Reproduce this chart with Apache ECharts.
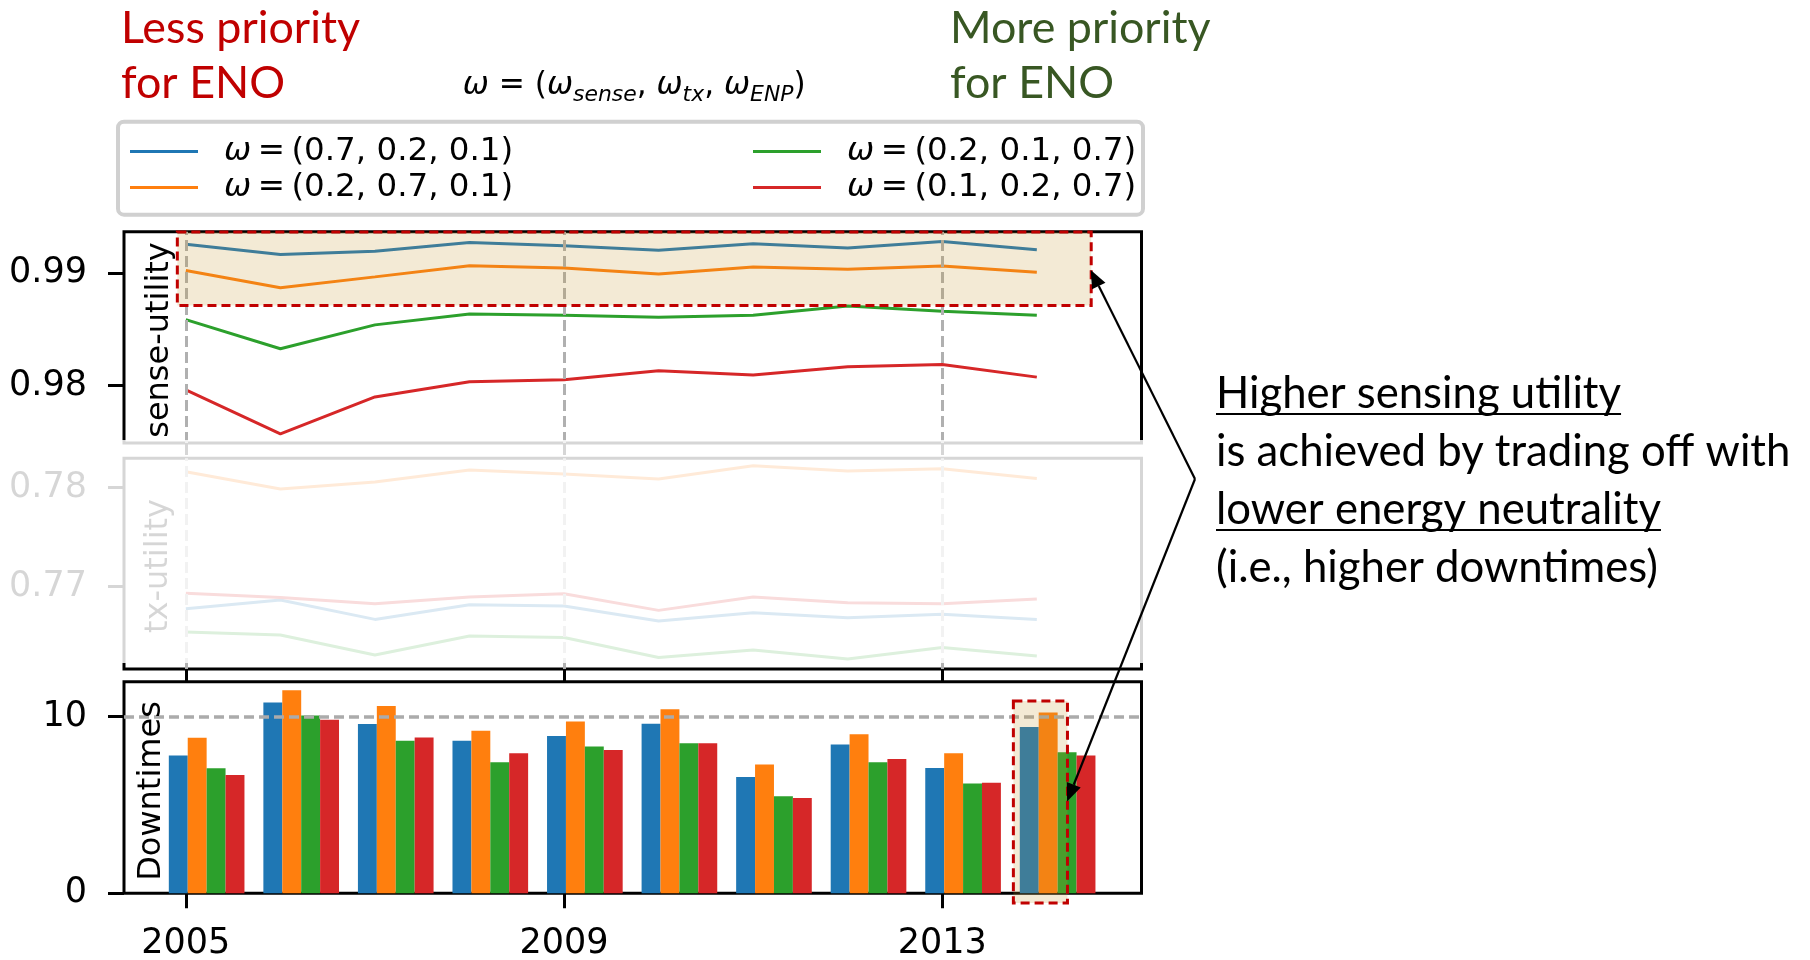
<!DOCTYPE html>
<html><head><meta charset="utf-8">
<script src="https://cdn.jsdelivr.net/npm/echarts@6/dist/echarts.min.js"></script>
<style>html,body{margin:0;padding:0;background:#fff}#c{width:1810px;height:960px}</style>
</head><body><div id="c"></div>
<script>
// ---------------- data ----------------
const years = [2005, 2006, 2007, 2008, 2009, 2010, 2011, 2012, 2013, 2014];
const seriesNames = ['ω = (0.7, 0.2, 0.1)', 'ω = (0.2, 0.7, 0.1)', 'ω = (0.2, 0.1, 0.7)', 'ω = (0.1, 0.2, 0.7)'];
const senseBlue   = [0.99259, 0.99168, 0.99197, 0.99274, 0.99244, 0.99206, 0.99262, 0.99224, 0.99282, 0.99209];
const senseOrange = [0.99024, 0.98871, 0.98968, 0.99068, 0.99047, 0.98994, 0.99056, 0.99035, 0.99065, 0.99009];
const senseGreen  = [0.98588, 0.98329, 0.98541, 0.98638, 0.98626, 0.98609, 0.98626, 0.98709, 0.98662, 0.98626];
const senseRed    = [0.97962, 0.97571, 0.97900, 0.98035, 0.98053, 0.98132, 0.98094, 0.98168, 0.98188, 0.98076];
const txBlue   = [0.76778, 0.76865, 0.76670, 0.76818, 0.76805, 0.76653, 0.76737, 0.76687, 0.76721, 0.76670];
const txOrange = [0.78162, 0.77987, 0.78057, 0.78178, 0.78138, 0.78088, 0.78222, 0.78168, 0.78192, 0.78094];
const txGreen  = [0.76542, 0.76512, 0.76310, 0.76502, 0.76488, 0.76286, 0.76360, 0.76269, 0.76387, 0.76300];
const txRed    = [0.76933, 0.76892, 0.76828, 0.76896, 0.76929, 0.76761, 0.76896, 0.76838, 0.76828, 0.76875];
const downBlue   = [7.80, 10.80, 9.58, 8.63, 8.90, 9.60, 6.58, 8.43, 7.10, 9.41];
const downOrange = [8.80, 11.50, 10.61, 9.20, 9.72, 10.42, 7.29, 9.01, 7.93, 10.23];
const downGreen  = [7.08, 10.06, 8.63, 7.42, 8.31, 8.50, 5.50, 7.42, 6.21, 7.99];
const downRed    = [6.70, 9.83, 8.82, 7.93, 8.12, 8.50, 5.39, 7.61, 6.26, 7.80];
const xTicks = [2005, 2009, 2013];
const senseTicks = [0.98, 0.99];
const txTicks = [0.77, 0.78];
const downTicks = [0, 10];
const downRefLine = 10;
const senseHighlight = [2004.91, 0.98714, 2014.575, 0.99367];
const downHighlight = [2013.752, -0.55, 2014.324, 10.89];
const arrowTopTip = [2014.57, 0.9903];
const arrowBottomTip = [2014.32, 5.2];
const titleLeft = ['Less priority', 'for ENO'];
const titleRight = ['More priority', 'for ENO'];
const noteLines = ['Higher sensing utility', 'is achieved by trading off with', 'lower energy neutrality', '(i.e., higher downtimes)'];
const noteUnderlined = [true, false, true, false];

// ---------------- style / layout ----------------
const colors = ['#1f77b4', '#ff7f0e', '#2ca02c', '#d62728'];
const XMIN = 2004.346, XMAX = 2015.107;
const barOffsets = [-0.18, 0.02, 0.22, 0.42];
const barWidth = 0.2;
const DV = '"DejaVu Sans"';
const GS = 'Lato';

const senseData = [senseBlue, senseOrange, senseGreen, senseRed];
const txData = [txBlue, txOrange, txGreen, txRed];
const downData = [downBlue, downOrange, downGreen, downRed];
const pairs = arr => years.map((y, i) => [y, arr[i]]);

const gridBase = {left: 124, width: 1017.5, show: true, borderColor: '#000', borderWidth: 3,
  backgroundColor: 'transparent', containLabel: false, outerBoundsMode: 'none'};
const grids = [
  Object.assign({top: 231.7, height: 211.3}, gridBase),
  Object.assign({top: 458.3, height: 210.7}, gridBase),
  Object.assign({top: 681.7, height: 211.6}, gridBase)
];

function xAxisCfg(idx, tickLen, showLabel) {
  return {
    type: 'value', gridIndex: idx, min: XMIN, max: XMAX,
    splitLine: {show: false}, axisLine: {show: false},
    axisTick: {show: true, customValues: xTicks, length: tickLen, lineStyle: {color: '#000', width: 3}},
    axisLabel: {show: showLabel, customValues: xTicks, fontSize: 35, fontFamily: 'DejaVu Sans', color: '#000', margin: 33,
      formatter: v => String(Math.round(v))}
  };
}
function yAxisCfg(idx, min, max, ticks, digits) {
  return {
    type: 'value', gridIndex: idx, min: min, max: max,
    splitLine: {show: false}, axisLine: {show: false},
    axisTick: {show: true, customValues: ticks, length: 16, lineStyle: {color: '#000', width: 3}},
    axisLabel: {show: true, customValues: ticks, fontSize: 35, fontFamily: 'DejaVu Sans', color: '#000', margin: 37,
      formatter: v => v.toFixed(digits)}
  };
}

const gridLineStyle = {color: '#b0b0b0', type: [11, 5], width: 3};
const vGrid = {silent: true, symbol: 'none', label: {show: false}, animation: false,
  lineStyle: gridLineStyle, data: xTicks.map(v => ({xAxis: v}))};

const series = [];
for (let i = 0; i < 4; i++) {
  series.push({type: 'line', name: seriesNames[i], xAxisIndex: 0, yAxisIndex: 0, data: pairs(senseData[i]),
    symbol: 'none', color: colors[i], lineStyle: {width: 3, color: colors[i]}, z: 3,
    markLine: i === 0 ? vGrid : undefined});
}
for (let i = 0; i < 4; i++) {
  series.push({type: 'line', name: seriesNames[i], xAxisIndex: 1, yAxisIndex: 1, data: pairs(txData[i]),
    symbol: 'none', color: colors[i], lineStyle: {width: 3, color: colors[i]}, z: 3,
    markLine: i === 0 ? vGrid : undefined});
}
for (let i = 0; i < 4; i++) {
  series.push({type: 'custom', name: seriesNames[i], xAxisIndex: 2, yAxisIndex: 2, data: pairs(downData[i]),
    color: colors[i], encode: {x: 0, y: 1}, z: 3,
    renderItem: (params, api) => {
      const x = api.value(0), v = api.value(1);
      const p0 = api.coord([x + barOffsets[i], v]);
      const p1 = api.coord([x + barOffsets[i] + barWidth, 0]);
      return {type: 'rect', shape: {x: p0[0], y: p0[1], width: p1[0] - p0[0], height: p1[1] - p0[1]},
        style: {fill: colors[i]}};
    },
    markLine: i === 3 ? {silent: true, symbol: 'none', label: {show: false}, animation: false,
      lineStyle: {color: '#ababab', type: [10, 5], width: 3.5}, data: [{yAxis: downRefLine}]} : undefined
  });
}
function highlightSeries(name, idx, box) {
  return {type: 'custom', name: name, xAxisIndex: idx, yAxisIndex: idx, data: [box], clip: false, z: 6,
    encode: {x: [0, 2], y: [1, 3]}, silent: true,
    renderItem: (params, api) => {
      const a = api.coord([api.value(0), api.value(3)]);
      const b = api.coord([api.value(2), api.value(1)]);
      return {type: 'rect', shape: {x: a[0], y: a[1], width: b[0] - a[0], height: b[1] - a[1]},
        style: {fill: 'rgba(195,150,45,0.2)', stroke: '#c00000', lineWidth: 3, lineDash: [9, 5]}};
    }};
}
series.push(highlightSeries('hl-sense', 0, senseHighlight));
series.push(highlightSeries('hl-down', 2, downHighlight));

const LFS = 32.5;
const legendText = {fontFamily: 'DejaVu Sans', fontSize: LFS, color: '#000', lineHeight: 36, padding: [0, 0, 0, 21],
  rich: {i: {fontStyle: 'italic', fontFamily: 'DejaVu Sans', fontSize: LFS, lineHeight: 36, color: '#000'},
         n: {fontFamily: 'DejaVu Sans', fontSize: LFS, lineHeight: 36, color: '#000'}}};
const legendFmt = name => '{i|ω}{n|' + name.slice(1).replace(' = ', '\u2009=\u2009') + '}';
function legendCfg(names, left) {
  return {data: names, orient: 'vertical', left: left, top: 133.5, padding: 0, itemGap: 0,
    itemWidth: 68, itemHeight: 3, icon: 'rect', textStyle: legendText, formatter: legendFmt, z: 20};
}

const option = {
  animation: false,
  backgroundColor: '#fff',
  grid: grids,
  xAxis: [xAxisCfg(0, 12, false), xAxisCfg(1, 14, false), xAxisCfg(2, 15, true)],
  yAxis: [yAxisCfg(0, 0.9749, 0.9937, senseTicks, 2), yAxisCfg(1, 0.76169, 0.78297, txTicks, 2),
          yAxisCfg(2, 0, 11.98, downTicks, 0)],
  legend: [legendCfg(seriesNames.slice(0, 2), 130), legendCfg(seriesNames.slice(2, 4), 753)],
  series: series
};

const chart = echarts.init(document.getElementById('c'), null, {renderer: 'canvas'});
chart.setOption(option);

// ---------------- annotations ----------------
const mctx = document.createElement('canvas').getContext('2d');
function tw(text, font) { mctx.font = font; return mctx.measureText(text).width; }
function midOffset(font) {
  mctx.font = font;
  mctx.textBaseline = 'alphabetic';
  const a = mctx.measureText('H').actualBoundingBoxAscent;
  mctx.textBaseline = 'middle';
  const b = mctx.measureText('H').actualBoundingBoxAscent;
  mctx.textBaseline = 'alphabetic';
  return a - b;
}
function fitSize(text, target, family, style) {
  const base = 40;
  return base * target / tw(text, (style || '') + ' ' + base + 'px ' + family);
}
const els = [];
function textEl(text, x, baseline, font, fill, z) {
  els.push({type: 'text', x: x, y: baseline - midOffset(font), z: z || 50,
    style: {text: text, font: font, fill: fill, align: 'left', verticalAlign: 'middle'}});
}

// legend frame
els.push({type: 'rect', z: 1, shape: {x: 118, y: 121.7, width: 1025, height: 93, r: 6},
  style: {fill: '#fff', stroke: '#d0d0d0', lineWidth: 4}});

// titles
const tSize = fitSize(titleLeft[0], 239, GS);
const tFont = tSize.toFixed(1) + 'px ' + GS;
textEl(titleLeft[0], 121, 42.7, tFont, '#c00000');
textEl(titleLeft[1], 121, 98.3, tFont, '#c00000');
textEl(titleRight[0], 950, 42.7, tFont, '#385723');
textEl(titleRight[1], 950, 98.3, tFont, '#385723');

// formula  ω = (ω_sense, ω_tx, ω_ENP)
const fParts = [
  ['ω', 1, true, 0], [' = (', 1, false, 0], ['ω', 1, true, 0], ['sense', 0.7, true, 1], [', ', 1, false, 0],
  ['ω', 1, true, 0], ['tx', 0.7, true, 1], [', ', 1, false, 0], ['ω', 1, true, 0], ['ENP', 0.7, true, 1], [')', 1, false, 0]
];
function partFont(p, s) { return (p[2] ? 'italic ' : '') + (s * p[1]).toFixed(1) + 'px ' + DV; }
let fw = 0; fParts.forEach(p => fw += tw(p[0], partFont(p, 30)));
const fs = 30 * 343 / fw;
let fx = 462.7;
fParts.forEach(p => {
  const f = partFont(p, fs);
  textEl(p[0], fx, 94 + p[3] * fs * 0.22, f, '#000');
  fx += tw(p[0], f);
});

// note text
const nSize = fitSize(noteLines[1], 574, GS);
const nFont = nSize.toFixed(1) + 'px ' + GS;
noteLines.forEach((t, k) => {
  const bl = 408 + k * 58;
  textEl(t, 1216, bl, nFont, '#000');
  if (noteUnderlined[k]) {
    const w = tw(t, nFont);
    els.push({type: 'line', z: 50, shape: {x1: 1216, y1: bl + 6, x2: 1216 + w, y2: bl + 6},
      style: {stroke: '#000', lineWidth: 2}});
  }
});

// rotated axis names
function vText(text, x, cy) {
  const font = '32px ' + DV;
  els.push({type: 'text', x: x - midOffset(font), y: cy, rotation: Math.PI / 2, z: 8,
    style: {text: text, font: font, fill: '#000', align: 'center', verticalAlign: 'middle'}});
}
vText('sense-utility', 168, 340);
vText('tx-utility', 167, 566);
vText('Downtimes', 160, 791);

// fading veil over the tx-utility panel
els.push({type: 'rect', z: 100, silent: true, shape: {x: 0, y: 440, width: 1147, height: 223},
  style: {fill: 'rgba(255,255,255,0.84)'}});

// arrows
const V = [1195, 479];
function arrow(tip) {
  const dx = tip[0] - V[0], dy = tip[1] - V[1];
  const L = Math.hypot(dx, dy), ux = dx / L, uy = dy / L;
  const hl = 18, hw = 7.5;
  const bx = tip[0] - ux * hl, by = tip[1] - uy * hl;
  els.push({type: 'line', z: 110, shape: {x1: V[0], y1: V[1], x2: bx, y2: by}, style: {stroke: '#000', lineWidth: 2.2}});
  els.push({type: 'polygon', z: 110, shape: {points: [[tip[0], tip[1]], [bx - uy * hw, by + ux * hw], [bx + uy * hw, by - ux * hw]]},
    style: {fill: '#000'}});
}
arrow(chart.convertToPixel({gridIndex: 0}, arrowTopTip));
arrow(chart.convertToPixel({gridIndex: 2}, arrowBottomTip));

chart.setOption({graphic: {elements: els}});
</script>
</body></html>
